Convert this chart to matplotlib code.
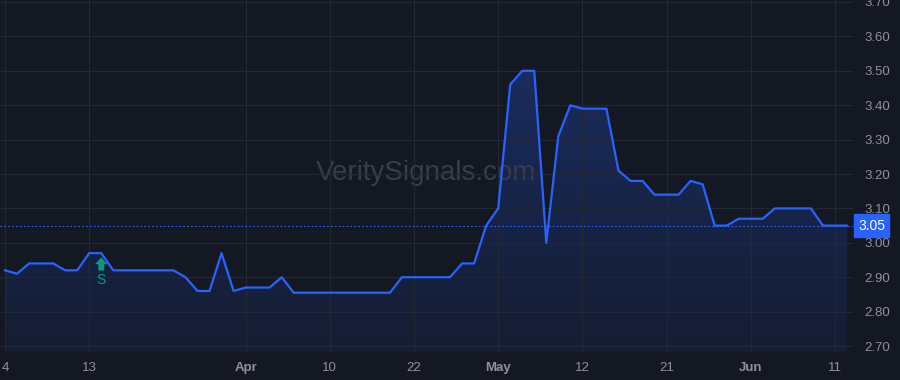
import numpy as np
import pandas as pd
import matplotlib
matplotlib.use("Agg")
import matplotlib.pyplot as plt
from matplotlib.patches import PathPatch
from matplotlib.path import Path
import matplotlib.transforms as mtransforms

# ---- data ----
holidays = ["2025-04-18", "2025-05-26"]
dates = pd.bdate_range("2025-03-04", "2025-06-12", freq="C", holidays=holidays)

prices = [
    2.92, 2.91, 2.94, 2.94, 2.94, 2.92, 2.92, 2.97, 2.97, 2.92,
    2.92, 2.92, 2.92, 2.92, 2.92, 2.90, 2.86, 2.86, 2.97, 2.86,
    2.87, 2.87, 2.87, 2.90, 2.855, 2.855, 2.855, 2.855, 2.855, 2.855,
    2.855, 2.855, 2.855, 2.90, 2.90, 2.90, 2.90, 2.90, 2.94, 2.94,
    3.05, 3.10, 3.46, 3.50, 3.50, 3.00, 3.31, 3.40, 3.39, 3.39,
    3.39, 3.21, 3.18, 3.18, 3.14, 3.14, 3.14, 3.18, 3.17, 3.05,
    3.05, 3.07, 3.07, 3.07, 3.10, 3.10, 3.10, 3.10, 3.05, 3.05,
    3.05,
]

tick_dates = ["2025-03-04", "2025-03-13", "2025-04-01", "2025-04-10", "2025-04-22",
              "2025-05-01", "2025-05-12", "2025-05-21", "2025-06-02", "2025-06-11"]
tick_labels = ["4", "13", "Apr", "10", "22", "May", "12", "21", "Jun", "11"]
bold_labels = ["Apr", "May", "Jun"]

y_ticks = [2.70, 2.80, 2.90, 3.00, 3.10, 3.20, 3.30, 3.40, 3.50, 3.60, 3.70]

signal_dates = ["2025-03-14"]
signal_labels = ["S"]

last_price = prices[-1]
watermark = "VeritySignals.com"

# ---- style ----
BG = "#141823"
GRID = "#242835"
LINE = "#2962ff"
TXT = "#8f929c"
GREEN = "#089981"

plt.rcParams["font.family"] = ["Liberation Sans", "DejaVu Sans"]

fig = plt.figure(figsize=(9, 3.8), dpi=100, facecolor=BG)
ax = fig.add_axes([0.0, 28 / 380, 853 / 900, 1 - 28 / 380])
ax.set_facecolor(BG)

x = np.arange(len(dates))
y = np.array(prices)

ymin, ymax = 2.6826, 3.7058
ax.set_xlim(-0.42, len(dates) - 0.5)
ax.set_ylim(ymin, ymax)

# gradient fill under line
verts = [(x[0], ymin)] + list(zip(x, y)) + [(x[-1], ymin), (x[0], ymin)]
codes = [Path.MOVETO] + [Path.LINETO] * (len(verts) - 2) + [Path.CLOSEPOLY]
clip = PathPatch(Path(verts, codes), facecolor="none", edgecolor="none")
ax.add_patch(clip)
top = y.max()
grad = np.zeros((256, 1, 4))
grad[:, 0, 0:3] = matplotlib.colors.to_rgb(LINE)
grad[:, 0, 3] = np.linspace(0.27, 0.07, 256)
im = ax.imshow(grad, aspect="auto", extent=[x[0], x[-1], ymin, top],
               origin="upper", zorder=1, interpolation="bilinear")
im.set_clip_path(clip)

ax.plot(x, y, color=LINE, lw=1.6, zorder=3)

# last price dotted line
ax.axhline(last_price, color=LINE, lw=0.8, ls=(0, (1.5, 2)), zorder=2)

# ticks & grid
idx_of = {d.strftime("%Y-%m-%d"): i for i, d in enumerate(dates)}
tick_pos = [idx_of[d] for d in tick_dates]
ax.set_xticks(tick_pos)
ax.set_xticklabels(tick_labels)
for lbl in ax.get_xticklabels():
    if lbl.get_text() in bold_labels:
        lbl.set_fontweight("bold")
ax.set_yticks(y_ticks)
ax.set_yticklabels([f"{v:.2f}" for v in y_ticks])
ax.yaxis.tick_right()
ax.grid(True, color=GRID, lw=0.8, zorder=0)
ax.tick_params(axis="both", length=0, colors=TXT, labelsize=9.5)
ax.tick_params(axis="y", pad=8)
ax.tick_params(axis="x", pad=7)
for s in ax.spines.values():
    s.set_visible(False)

# watermark
ax.text(0.50, 0.508, watermark, transform=ax.transAxes, ha="center", va="center",
        fontsize=20, color="#393d49", zorder=1.5)

# signal markers
for d, lab in zip(signal_dates, signal_labels):
    i = idx_of[d]
    ax.annotate("",
                xy=(i, y[i]), xytext=(0, -12.5), textcoords="offset points",
                arrowprops=dict(arrowstyle="simple,head_width=0.9,head_length=0.5,tail_width=0.42",
                                color=GREEN, shrinkA=0, shrinkB=3.0, lw=0),
                zorder=4)
    ax.annotate(lab, xy=(i, y[i]), xytext=(0, -19.5), textcoords="offset points",
                ha="center", va="center", color=GREEN, fontsize=10, zorder=4)

# last price label on axis
blend = mtransforms.blended_transform_factory(ax.transAxes, ax.transData)
ax.text(1.0 + 5 / 853, last_price, f"{last_price:.2f}", transform=blend,
        ha="left", va="center", color="white", fontsize=10, zorder=6,
        bbox=dict(boxstyle="square,pad=0.3", fc=LINE, ec=LINE),
        clip_on=False)

fig.savefig("out.png", dpi=100, facecolor=BG)
